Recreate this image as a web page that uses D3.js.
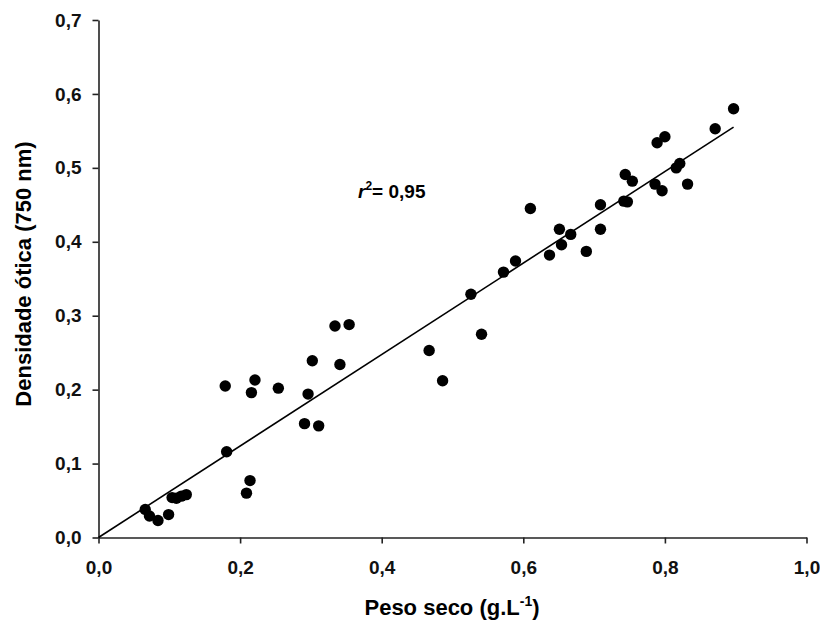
<!DOCTYPE html>
<html>
<head>
<meta charset="utf-8">
<script src="https://cdn.jsdelivr.net/npm/d3@7"></script>
<style>
  html, body { margin: 0; padding: 0; background: #fff; }
  svg { display: block; font-family: "Liberation Sans", Arial, sans-serif; }
</style>
</head>
<body>
<svg id="chart" width="820" height="628"></svg>
<script>
// Data
const pesoSeco = [0.066, 0.072, 0.084, 0.099, 0.104, 0.110, 0.117, 0.124, 0.181, 0.209,
                  0.214, 0.179, 0.216, 0.221, 0.254, 0.296, 0.302, 0.291, 0.311, 0.334,
                  0.354, 0.341, 0.467, 0.486, 0.526, 0.541, 0.572, 0.589, 0.610, 0.637,
                  0.651, 0.654, 0.667, 0.689, 0.709, 0.709, 0.742, 0.747, 0.744, 0.754,
                  0.786, 0.796, 0.832, 0.816, 0.821, 0.789, 0.800, 0.871, 0.897];
const densidade = [0.038, 0.029, 0.023, 0.031, 0.054, 0.053, 0.056, 0.058, 0.116, 0.060,
                   0.077, 0.205, 0.196, 0.213, 0.202, 0.194, 0.239, 0.154, 0.151, 0.286,
                   0.288, 0.234, 0.253, 0.212, 0.329, 0.275, 0.359, 0.374, 0.445, 0.382,
                   0.417, 0.396, 0.410, 0.387, 0.450, 0.417, 0.455, 0.454, 0.491, 0.482,
                   0.478, 0.469, 0.478, 0.500, 0.506, 0.534, 0.542, 0.553, 0.580];
const fitLineX = [0, 0.897];
const fitLineY = [0, 0.555];
const xTicks = [0, 0.2, 0.4, 0.6, 0.8, 1.0];
const yTicks = [0, 0.1, 0.2, 0.3, 0.4, 0.5, 0.6, 0.7];
const xTitle = "Peso seco (g.L";
const xTitleSup = "-1";
const yTitle = "Densidade ótica (750 nm)";
const r2Value = "= 0,95";

const svg = d3.select("#chart");
const x = d3.scaleLinear().domain([0, 1]).range([98.5, 806.5]);
const y = d3.scaleLinear().domain([0, 0.7]).range([537.5, 20]);
const fmt = v => d3.format(".1f")(v).replace(".", ",");

const xAxis = svg.append("g").attr("transform", `translate(0,${y(0)})`)
  .call(d3.axisBottom(x).tickValues(xTicks).tickFormat(fmt).tickSizeInner(6).tickSizeOuter(0).tickPadding(17));
const yAxis = svg.append("g").attr("transform", `translate(${x(0)},0)`)
  .call(d3.axisLeft(y).tickValues(yTicks).tickFormat(fmt).tickSizeInner(6).tickSizeOuter(0).tickPadding(11));

[xAxis, yAxis].forEach(g => {
  g.select(".domain").attr("stroke", "#222").attr("stroke-width", 1.6);
  g.selectAll(".tick line").attr("stroke", "#222").attr("stroke-width", 1.6);
  g.selectAll(".tick text").attr("fill", "#111").attr("font-size", 19).attr("font-weight", "bold")
    .attr("font-family", "Liberation Sans, Arial, sans-serif");
});

// regression line
svg.append("line")
  .attr("x1", x(fitLineX[0])).attr("y1", y(fitLineY[0]))
  .attr("x2", x(fitLineX[1])).attr("y2", y(fitLineY[1]))
  .attr("stroke", "#000").attr("stroke-width", 1.6);

// points
svg.append("g").selectAll("circle")
  .data(pesoSeco.map((v, i) => [v, densidade[i]]))
  .join("circle")
  .attr("cx", d => x(d[0])).attr("cy", d => y(d[1]))
  .attr("r", 5.7).attr("fill", "#000");

// r2 annotation
const r2 = svg.append("text").attr("x", 358).attr("y", 198)
  .attr("font-size", 19).attr("font-weight", "bold").attr("fill", "#000");
r2.append("tspan").attr("font-style", "italic").text("r");
r2.append("tspan").attr("font-size", 12).attr("dy", -8).text("2");
r2.append("tspan").attr("dy", 8).text(r2Value);

// axis titles
const xt = svg.append("text").attr("x", 452).attr("y", 615).attr("text-anchor", "middle")
  .attr("font-size", 22).attr("font-weight", "bold").attr("fill", "#000");
xt.append("tspan").text(xTitle);
xt.append("tspan").attr("font-size", 14).attr("dy", -9).text(xTitleSup);
xt.append("tspan").attr("dy", 9).text(")");

svg.append("text")
  .attr("transform", `translate(31,274) rotate(-90)`)
  .attr("text-anchor", "middle")
  .attr("font-size", 22).attr("font-weight", "bold").attr("fill", "#000")
  .text(yTitle);
</script>
</body>
</html>
